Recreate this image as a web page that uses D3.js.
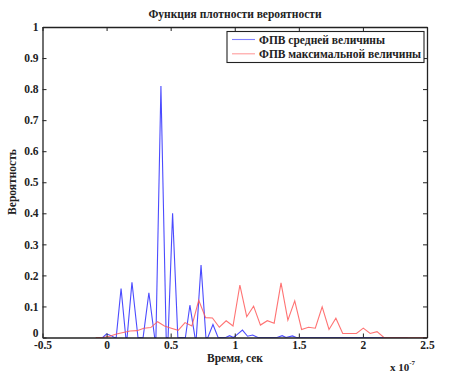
<!DOCTYPE html>
<html><head><meta charset="utf-8">
<script src="https://cdn.jsdelivr.net/npm/d3@7"></script>
<style>
body{margin:0;background:#fff;}
svg text{font-family:"Liberation Serif","Times New Roman",serif;font-weight:bold;fill:#222;}
</style></head>
<body><svg id="c" width="453" height="377"></svg>
<script>
// Data (time in units of 1e-7 s)
const meanX = [-0.03,0.0,0.035,0.06,0.075,0.113,0.15,0.16,0.198,0.245,0.285,0.33,0.375,0.385,0.424,0.465,0.48,0.515,0.556,0.615,0.65,0.69,0.70,0.737,0.775,0.79,0.83,0.87,0.93,0.96,0.99,1.02,1.06,1.10,1.14,1.18,1.33,1.37,1.40,1.45,1.48,2.35];
const meanY = [0,0.012,0.006,0,0,0.158,0,0,0.178,0,0,0.144,0,0,0.81,0,0,0.40,0,0,0.104,0,0,0.233,0,0,0.042,0,0,0.006,0,0.01,0.024,0.004,0.008,0,0,0.006,0,0.005,0,0];
const maxX = [-0.085,-0.03,0.0235,0.077,0.13,0.184,0.2375,0.291,0.3445,0.398,0.4515,0.505,0.5585,0.612,0.6655,0.719,0.7725,0.826,0.8795,0.933,0.9865,1.04,1.0935,1.147,1.2005,1.254,1.3075,1.361,1.4145,1.468,1.5215,1.575,1.6285,1.682,1.7355,1.789,1.8425,1.896,1.9495,2.003,2.0565,2.11,2.1635,2.5];
const maxY = [0,0,0.004,0.011,0.016,0.021,0.022,0.03,0.032,0.051,0.037,0.03,0.023,0.048,0.037,0.12,0.064,0.063,0.033,0.054,0.037,0.169,0.067,0.101,0.04,0.054,0.046,0.176,0.056,0.118,0.026,0.033,0.03,0.099,0.026,0.062,0.013,0.013,0.013,0.03,0.013,0.019,0,0];
const xTicks = [-0.5,0,0.5,1,1.5,2,2.5];
const xTickLabels = ["-0.5","0","0.5","1","1.5","2","2.5"];
const yTicks = [0,0.1,0.2,0.3,0.4,0.5,0.6,0.7,0.8,0.9,1];
const yTickLabels = ["0","0.1","0.2","0.3","0.4","0.5","0.6","0.7","0.8","0.9","1"];
const seriesNames = ["ФПВ средней величины","ФПВ максимальной величины"];
const seriesColors = ["#2b2bff","#ff5a5a"];

const svg = d3.select("#c");
const L=42.5, R=427, T=27, B=337.5;
const x = d3.scaleLinear().domain([-0.5,2.5]).range([L,R]);
const y = d3.scaleLinear().domain([0,1]).range([B,T]);

// series
const line = d3.line().x(d=>x(d[0])).y(d=>y(d[1]));
const blue = meanX.map((v,i)=>[v,meanY[i]]);
const red = maxX.map((v,i)=>[v,maxY[i]]);
svg.append("path").attr("d",line(blue)).attr("fill","none").attr("stroke",seriesColors[0]).attr("stroke-width",1.1).attr("stroke-opacity",0.85);
svg.append("path").attr("d",line(red)).attr("fill","none").attr("stroke",seriesColors[1]).attr("stroke-width",1.1).attr("stroke-opacity",0.85);

// axes box with inward ticks
const fmtX = (d,i)=>xTickLabels[i], fmtY=(d,i)=>yTickLabels[i];
const gB = svg.append("g").attr("transform",`translate(0,${B})`)
  .call(d3.axisBottom(x).tickValues(xTicks).tickFormat(fmtX).tickSizeInner(-4).tickSizeOuter(0).tickPadding(3));
const gT = svg.append("g").attr("transform",`translate(0,${T})`)
  .call(d3.axisTop(x).tickValues(xTicks).tickFormat("").tickSizeInner(-4).tickSizeOuter(0));
const gL = svg.append("g").attr("transform",`translate(${L},0)`)
  .call(d3.axisLeft(y).tickValues(yTicks).tickFormat(fmtY).tickSizeInner(-4).tickSizeOuter(0).tickPadding(4));
const gR = svg.append("g").attr("transform",`translate(${R},0)`)
  .call(d3.axisRight(y).tickValues(yTicks).tickFormat("").tickSizeInner(-4).tickSizeOuter(0));
[gB,gT,gL,gR].forEach(g=>{
  g.selectAll("path.domain").attr("stroke","#222").attr("stroke-width",1.3);
  g.selectAll("line").attr("stroke","#222");
  g.selectAll("text").style("font-size","11.5px").attr("fill","#222");
});
// lift the y "0" label slightly so it sits above the "-0.5" label, as in the reference
gL.selectAll(".tick").filter(d=>d===0).select("text").attr("dy","-0.05em");

// legend
const lg = svg.append("g");
lg.append("rect").attr("x",227).attr("y",31.5).attr("width",197).attr("height",31)
  .attr("fill","#fff").attr("stroke","#222").attr("stroke-width",1.1);
seriesNames.forEach((n,i)=>{
  const yy = 39.5 + i*14.3;
  lg.append("line").attr("x1",232).attr("x2",255).attr("y1",yy).attr("y2",yy)
    .attr("stroke",seriesColors[i]).attr("stroke-width",1.1).attr("stroke-opacity",0.6);
  lg.append("text").attr("x",259).attr("y",yy+4).text(n).style("font-size","11.5px");
});

// texts
svg.append("text").attr("x",235).attr("y",18).attr("text-anchor","middle").style("font-size","11.5px").text("Функция плотности вероятности");
svg.append("text").attr("x",235).attr("y",362).attr("text-anchor","middle").style("font-size","11.5px").text("Время, сек");
svg.append("text").attr("transform","translate(16,182) rotate(-90)").attr("text-anchor","middle").style("font-size","11.5px").text("Вероятность");
const e = svg.append("text").attr("x",390).attr("y",371).style("font-size","11px");
e.append("tspan").text("x 10");
e.append("tspan").attr("dy",-6).style("font-size","7px").text("-7");
</script></body></html>
